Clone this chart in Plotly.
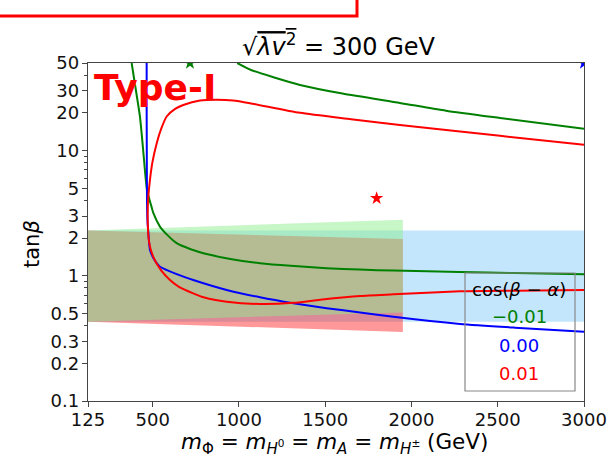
import math
import plotly.graph_objects as go

# ---- data ----
band_x = [125, 1950]
green_lo = [0.43, 0.51]
green_hi = [2.3, 2.8]
red_lo = [0.43, 0.356]
red_hi = [2.3, 1.97]
blueband_x = [125, 3000]
blue_lo = [0.43, 0.43]
blue_hi = [2.3, 2.3]

green_a_x = [378, 400, 426, 445, 467, 494, 504, 542, 580, 639, 720, 832, 950, 1122, 1300, 1508, 1700, 1895, 2281, 2600, 3000]
green_a_y = [50, 32, 18.7, 10, 4.85, 3.52, 3.16, 2.47, 2.15, 1.82, 1.63, 1.47, 1.36, 1.26, 1.2, 1.15, 1.12, 1.10, 1.07, 1.05, 1.03]
green_b_x = [990, 1070, 1200, 1354, 1600, 1933, 2200, 2513, 3000]
green_b_y = [50, 44, 38.5, 33.4, 28.5, 24, 20.8, 18.2, 14.9]

red_x = [3000, 2600, 2281, 1895, 1702, 1508, 1315, 1122, 929, 800, 735, 650, 600, 550, 520, 503, 487, 477,
         472, 471, 474, 482, 498, 523, 550, 581, 630, 677, 774, 870, 965, 1064, 1354, 1650, 1933, 2513, 3000]
red_y = [0.77, 0.76, 0.751, 0.711, 0.69, 0.653, 0.608, 0.595, 0.621, 0.67, 0.724, 0.82, 0.925, 1.1, 1.27, 1.42, 1.65, 1.95,
         2.5, 3.2, 4.2, 5.5, 8, 11.4, 15, 18.7, 21.5, 23.1, 25.1, 25.4, 25.1, 23.9, 20, 17.8, 16, 13.1, 11.1]

blue_x = [465, 465, 466, 467, 470, 475, 484, 500, 520, 542, 639, 735, 929, 1122, 1315, 1508, 1702, 1895, 2281, 2600, 3000]
blue_y = [50, 20, 8, 4, 2.7, 2.2, 1.61, 1.42, 1.28, 1.18, 1.03, 0.925, 0.77, 0.673, 0.603, 0.55, 0.51, 0.47, 0.412, 0.385, 0.358]

star_x = [716, 1798, 3000]
star_y = [50, 4.16, 50]
star_colors = ["green", "red", "blue"]

x_ticks = [125, 500, 1000, 1500, 2000, 2500, 3000]
y_ticks = [0.1, 0.2, 0.3, 0.5, 1, 2, 3, 5, 10, 20, 30, 50]
y_ticktext = ["0.1", "0.2", "0.3", "0.5", "1", "2", "3", "5", "10", "20", "30", "50"]
y_minor = [0.4, 0.6, 0.7, 0.8, 0.9, 4, 6, 7, 8, 9, 40]

legend_title = "cos(<i>β</i> − <i>α</i>)"
legend_labels = ["−0.01", "0.00", "0.01"]
legend_colors = ["green", "blue", "red"]

FONT = "DejaVu Sans"

fig = go.Figure()

def band(xs, lo, hi, color):
    fig.add_trace(go.Scatter(x=xs + xs[::-1], y=lo + hi[::-1], fill="toself", fillcolor=color,
                             mode="none", hoverinfo="skip", showlegend=False))

band(blueband_x, blue_lo, blue_hi, "rgba(135,206,250,0.5)")
band(band_x, red_lo, red_hi, "rgba(255,0,0,0.4)")
band(band_x, green_lo, green_hi, "rgba(144,238,144,0.5)")

for xs, ys, c in [(green_a_x, green_a_y, "green"), (green_b_x, green_b_y, "green"),
                  (blue_x, blue_y, "blue"), (red_x, red_y, "red")]:
    fig.add_trace(go.Scatter(x=xs, y=ys, mode="lines", line=dict(color=c, width=2, shape="spline", smoothing=0.6),
                             showlegend=False, cliponaxis=True))

fig.add_trace(go.Scatter(x=star_x, y=star_y, mode="markers",
                         marker=dict(symbol="star", size=10, color=star_colors, line=dict(width=0)),
                         showlegend=False, cliponaxis=True))

axis_line = dict(showline=True, linecolor="#444", linewidth=1.4, mirror=True, showgrid=False, zeroline=False,
                 ticks="outside", ticklen=5, tickwidth=1.2, tickcolor="#444", automargin=False,
                 tickfont=dict(family=FONT, size=18, color="#111"))

fig.update_xaxes(range=[125, 3000], tickvals=x_ticks, ticktext=[str(v) for v in x_ticks],
                 ticklabelstandoff=-3, **axis_line)
fig.update_yaxes(type="log", range=[-1, math.log10(50)], tickvals=y_ticks, ticktext=y_ticktext,
                 minor=dict(tickvals=y_minor, ticks="outside", ticklen=3, tickwidth=1, tickcolor="#444"),
                 ticklabelstandoff=-1, **axis_line)

L, R, T, B = 88, 26, 63, 59
W, H = 610, 460
pw, ph = W - L - R, H - T - B
def px(x):
    return (x - L) / pw
def py(y):
    return (H - B - y) / ph

ann = []
# title
ann.append(dict(text="√<span style='text-decoration:overline'><i>λv</i><sup>2</sup></span> = 300 GeV",
                x=px(339), y=py(45), xref="paper", yref="paper", showarrow=False,
                font=dict(family=FONT, size=24, color="black"), xanchor="center", yanchor="middle"))
# axis titles
ann.append(dict(text="<i>m</i><sub>Φ</sub> = <i>m</i><sub><i>H</i><sup>0</sup></sub> = <i>m</i><sub><i>A</i></sub> = <i>m</i><sub><i>H</i><sup>±</sup></sub> (GeV)",
                x=px(334), y=py(443), xref="paper", yref="paper", showarrow=False,
                font=dict(family=FONT, size=21.5, color="black"), xanchor="center", yanchor="middle"))
ann.append(dict(text="tan<i>β</i>", x=px(32), y=py(244), xref="paper", yref="paper", showarrow=False,
                textangle=-90, font=dict(family=FONT, size=21, color="black"), xanchor="center", yanchor="middle"))
# Type-I
ann.append(dict(text="<b>Type-I</b>", x=px(92), y=py(87), xref="paper", yref="paper", showarrow=False,
                font=dict(family=FONT, size=36, color="red"), xanchor="left", yanchor="middle"))
# legend
ann.append(dict(text=legend_title, x=px(519), y=py(289), xref="paper", yref="paper", showarrow=False,
                font=dict(family=FONT, size=18, color="black"), xanchor="center", yanchor="middle"))
for i, (lab, c) in enumerate(zip(legend_labels, legend_colors)):
    ann.append(dict(text=lab, x=px(519), y=py(316.5 + i * 28.5), xref="paper", yref="paper", showarrow=False,
                    font=dict(family=FONT, size=18, color=c), xanchor="center", yanchor="middle"))

shapes = [
    dict(type="rect", xref="paper", yref="paper", x0=px(465), x1=px(575), y0=py(391), y1=py(273),
         line=dict(color="#888", width=1.2), fillcolor="rgba(0,0,0,0)"),
    dict(type="rect", xref="paper", yref="paper", x0=px(-4), x1=px(357), y0=py(16), y1=py(-30),
         line=dict(color="red", width=3), fillcolor="rgba(0,0,0,0)"),
]

fig.update_layout(width=W, height=H, margin=dict(l=L, r=R, t=T, b=B, autoexpand=False),
                  plot_bgcolor="white", paper_bgcolor="white",
                  showlegend=False, annotations=ann, shapes=shapes, font=dict(family=FONT))

fig.write_html("out.html")
